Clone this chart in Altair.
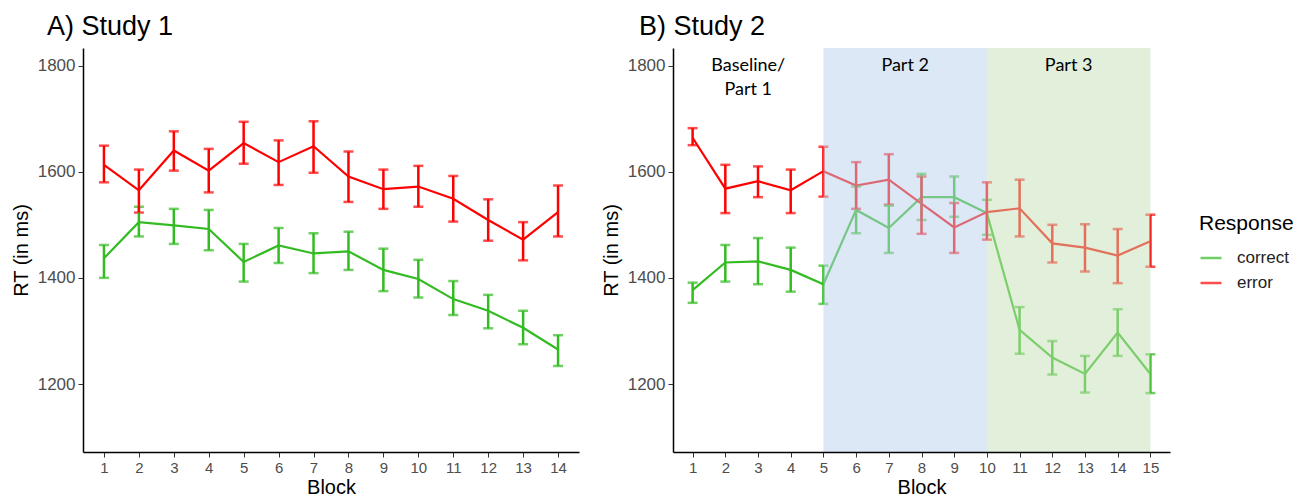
import altair as alt
import pandas as pd

# ---------------- data ----------------
responses = ["correct", "error"]

s1_blocks = list(range(1, 15))
s1_error_mean = [1613, 1565, 1640, 1602, 1654, 1618, 1648, 1591, 1567, 1572, 1549, 1509, 1472, 1524]
s1_error_hi = [1649, 1604, 1676, 1643, 1694, 1659, 1695, 1638, 1604, 1611, 1592, 1548, 1505, 1574]
s1_error_lo = [1580, 1523, 1602, 1561, 1615, 1575, 1598, 1543, 1530, 1534, 1506, 1470, 1433, 1478]
s1_correct_mean = [1437, 1505, 1499, 1492, 1430, 1461, 1446, 1450, 1415, 1398, 1360, 1338, 1306, 1265]
s1_correct_hi = [1462, 1534, 1530, 1528, 1464, 1494, 1484, 1487, 1455, 1434, 1394, 1368, 1338, 1292]
s1_correct_lo = [1400, 1478, 1464, 1452, 1393, 1428, 1409, 1415, 1375, 1363, 1330, 1305, 1275, 1234]

s2_blocks = list(range(1, 16))
s2_error_mean = [1664, 1568, 1582, 1565, 1601, 1574, 1585, 1540, 1495, 1524, 1531, 1465, 1457, 1442, 1469]
s2_error_hi = [1682, 1613, 1610, 1604, 1647, 1618, 1633, 1591, 1541, 1580, 1585, 1500, 1501, 1492, 1519]
s2_error_lo = [1650, 1522, 1552, 1522, 1553, 1530, 1538, 1483, 1447, 1472, 1478, 1429, 1412, 1390, 1421]
s2_correct_mean = [1377, 1429, 1431, 1415, 1388, 1528, 1494, 1552, 1552, 1522, 1302, 1250, 1219, 1297, 1219]
s2_correct_hi = [1391, 1462, 1475, 1457, 1423, 1572, 1536, 1596, 1591, 1547, 1345, 1281, 1253, 1341, 1256]
s2_correct_lo = [1353, 1393, 1388, 1374, 1351, 1484, 1447, 1509, 1515, 1481, 1257, 1218, 1184, 1253, 1183]

panel_titles = ["A) Study 1", "B) Study 2"]
part_labels = ["Baseline/\nPart 1", "Part 2", "Part 3"]
part_start = [0.4, 5, 10]
part_end = [5, 10, 15]
part_fill = ["#FFFFFF", "#B9D1EB", "#C5DFB5"]
part_alpha = [0.0, 0.5, 0.5]

y_ticks = [1200, 1400, 1600, 1800]

# ---------------- style ----------------
GREEN = "#33BB22"
RED = "#FF0000"
FONT = "Liberation Sans"
Y_DOMAIN = [1072, 1833]
H = 404


def make_df(blocks, cm, chi, clo, em, ehi, elo):
    rows = []
    for b, m, h, l in zip(blocks, cm, chi, clo):
        rows.append({"block": b, "rt": m, "hi": h, "lo": l, "response": "correct"})
    for b, m, h, l in zip(blocks, em, ehi, elo):
        rows.append({"block": b, "rt": m, "hi": h, "lo": l, "response": "error"})
    return pd.DataFrame(rows)


df1 = make_df(s1_blocks, s1_correct_mean, s1_correct_hi, s1_correct_lo,
              s1_error_mean, s1_error_hi, s1_error_lo)
df2 = make_df(s2_blocks, s2_correct_mean, s2_correct_hi, s2_correct_lo,
              s2_error_mean, s2_error_hi, s2_error_lo)

color = alt.Color(
    "response:N",
    scale=alt.Scale(domain=responses, range=[GREEN, RED]),
    legend=alt.Legend(
        title="Response", orient="none", legendX=1116, legendY=165,
        symbolType="stroke", symbolStrokeWidth=2.5, symbolSize=441,
        titleFont=FONT, titleFontSize=21, titleFontWeight="normal", titleColor="black",
        labelFont=FONT, labelFontSize=17, labelColor="#222222",
        rowPadding=5, titlePadding=12, labelOffset=14,
    ),
)


def axes(blocks):
    xaxis = alt.Axis(values=blocks, format="d", title="Block", grid=False,
                     tickSize=5, labelPadding=3, titlePadding=2, zindex=1,
                     labelOverlap=False, labelFontSize=15)
    yaxis = alt.Axis(values=y_ticks, format="d", title="RT (in ms)", grid=False,
                     tickSize=5, labelPadding=3, titlePadding=6, zindex=1,
                     labelFontSize=17)
    return xaxis, yaxis


def panel(df, blocks, xmax, title):
    xs = alt.Scale(domain=[0.4, xmax], nice=False, zero=False)
    ys = alt.Scale(domain=Y_DOMAIN, nice=False, zero=False)
    xaxis, yaxis = axes(blocks)
    base = alt.Chart(df)
    line = base.mark_line(strokeWidth=2.2).encode(
        x=alt.X("block:Q", scale=xs, axis=xaxis),
        y=alt.Y("rt:Q", scale=ys, axis=yaxis),
        color=color,
    )
    err = base.mark_errorbar(ticks=True, thickness=2.5, size=10).encode(
        x=alt.X("block:Q", scale=xs, axis=xaxis),
        y=alt.Y("lo:Q", scale=ys, axis=yaxis),
        y2="hi:Q",
        color=color,
    )
    ttl = alt.Chart(pd.DataFrame({"t": [title]})).mark_text(
        font=FONT, fontSize=27, align="left", baseline="alphabetic", color="black"
    ).encode(x=alt.value(-36 if title.startswith("A") else -34), y=alt.value(-13), text="t:N")
    return line, err, ttl, xs, xaxis


lineA, errA, ttlA, xsA, xaxA = panel(df1, s1_blocks, 14.6, panel_titles[0])
chartA = alt.layer(lineA, errA, ttlA).properties(width=496, height=H)

lineB, errB, ttlB, xsB, xaxB = panel(df2, s2_blocks, 15.6, panel_titles[1])
parts = pd.DataFrame({"label": part_labels, "x0": part_start, "x1": part_end,
                      "fill": part_fill, "alpha": part_alpha})
parts["xm"] = (parts["x0"] + parts["x1"]) / 2
shade = alt.Chart(parts).mark_rect(strokeWidth=0).encode(
    x=alt.X("x0:Q", scale=xsB, axis=xaxB),
    x2="x1:Q",
    y=alt.value(0),
    y2=alt.value(H),
    fill=alt.Fill("fill:N", scale=None),
    opacity=alt.Opacity("alpha:Q", scale=None),
)
ptext = alt.Chart(parts).mark_text(
    font="Lato", fontSize=18, color="black", baseline="top", lineBreak="\n", lineHeight=24
).encode(
    x=alt.X("xm:Q", scale=xsB, axis=xaxB),
    y=alt.value(9),
    text="label:N",
)
chartB = alt.layer(lineB, errB, shade, ptext, ttlB).properties(width=497, height=H)

chart = alt.hconcat(chartA, chartB, spacing=22).properties(
    padding={"left": 3, "top": 5, "right": 2, "bottom": 0}
).configure_view(stroke=None).configure_axis(
    domainColor="black", domainWidth=1.5, tickColor="#333333", tickWidth=1,
    labelFont=FONT, labelColor="#4D4D4D", labelOverlap=False,
    titleFont=FONT, titleFontSize=20, titleFontWeight="normal", titleColor="black",
)

chart.save("out.html", embed_options={"renderer": "svg", "actions": False})
